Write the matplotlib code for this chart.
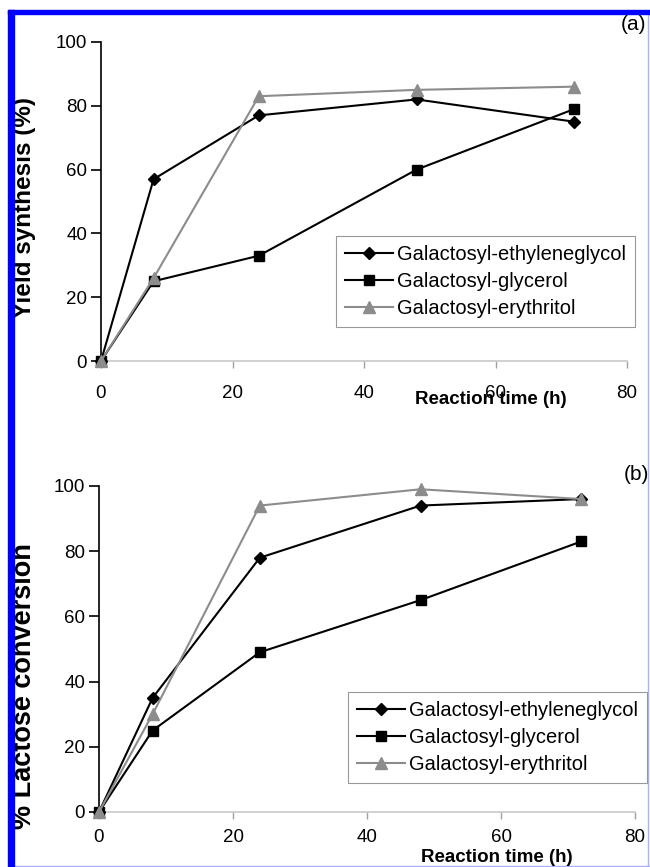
import matplotlib
matplotlib.use("Agg")
import matplotlib.pyplot as plt
from matplotlib.patches import Rectangle
from matplotlib.lines import Line2D

plt.rcParams['font.family'] = ['Liberation Sans', 'DejaVu Sans']

time_h = [0, 8, 24, 48, 72]
series_names = ["Galactosyl-ethyleneglycol", "Galactosyl-glycerol", "Galactosyl-erythritol"]

yield_ethyleneglycol = [0, 57, 77, 82, 75]
yield_glycerol = [0, 25, 33, 60, 79]
yield_erythritol = [0, 26, 83, 85, 86]

conv_ethyleneglycol = [0, 35, 78, 94, 96]
conv_glycerol = [0, 25, 49, 65, 83]
conv_erythritol = [0, 30, 94, 99, 96]

yticks = [0, 20, 40, 60, 80, 100]
xticks = [0, 20, 40, 60, 80]

W, H = 650, 867
fig = plt.figure(figsize=(W / 100, H / 100), dpi=100)

styles = [
    dict(color="black", marker="D", markersize=6, lw=1.5),
    dict(color="black", marker="s", markersize=7, lw=1.5),
    dict(color="#8c8c8c", marker="^", markersize=8, lw=1.5),
]


def make_panel(rect, data, ylabel, ylsize, ylabel_pos, xlabel_pos, xpad,
               legend_pos, tag, tag_pos):
    ax = fig.add_axes(rect)
    for vals, st, name in zip(data, styles, series_names):
        ax.plot(time_h, vals, label=name, clip_on=False, zorder=3,
                markeredgecolor=st["color"], **st)
    ax.set_xlim(0, 80)
    ax.set_ylim(0, 100)
    ax.set_xticks(xticks)
    ax.set_yticks(yticks)
    for s in ["top", "right"]:
        ax.spines[s].set_visible(False)
    ax.spines["left"].set_color("black")
    ax.spines["left"].set_linewidth(1.2)
    ax.spines["bottom"].set_color("#c8c8c8")
    ax.spines["bottom"].set_linewidth(1.2)
    ax.tick_params(axis="y", direction="out", length=7, width=1.2, colors="black",
                   labelsize=13.5, pad=3)
    ax.tick_params(axis="x", direction="out", length=5, width=1, color="#a0a0a0",
                   labelcolor="black", labelsize=13.5, pad=xpad)
    ax.patch.set_alpha(0)
    fig.text(ylabel_pos[0] / W, 1 - ylabel_pos[1] / H, ylabel, rotation=90,
             fontsize=ylsize, fontweight="bold", ha="center", va="center")
    fig.text(xlabel_pos[0] / W, 1 - xlabel_pos[1] / H, "Reaction time (h)",
             fontsize=13.5, fontweight="bold", ha="center", va="center")
    fig.text(tag_pos[0] / W, 1 - tag_pos[1] / H, tag, fontsize=15,
             ha="center", va="center")
    handles = [Line2D([], [], markeredgecolor=st["color"], **st) for st in styles]
    leg = fig.legend(handles, series_names, loc="upper left",
                     bbox_to_anchor=(legend_pos[0] / W, 1 - legend_pos[1] / H),
                     fontsize=14.5, frameon=True, fancybox=False, borderaxespad=0,
                     handlelength=2.4, handletextpad=0.2, labelspacing=0.4,
                     borderpad=0.45)
    leg.get_frame().set_edgecolor("#808080")
    leg.get_frame().set_linewidth(0.8)
    return ax


make_panel([101 / W, 1 - 361 / H, 526 / W, 319 / H],
           [yield_ethyleneglycol, yield_glycerol, yield_erythritol],
           "Yield synthesis (%)", 17.5, (24, 207), (491, 400), 12,
           (336, 236), "(a)", (634, 24))

make_panel([99 / W, 1 - 812 / H, 536 / W, 326 / H],
           [conv_ethyleneglycol, conv_glycerol, conv_erythritol],
           "% Lactose conversion", 19.5, (24, 686), (497, 858), 7,
           (348, 692), "(b)", (636, 474))

# blue border of the scanned figure
fig.patches.append(Rectangle((8 / W, 0), 6 / W, 1 - 10 / H, transform=fig.transFigure,
                             color="#0000ff", zorder=10))
fig.patches.append(Rectangle((8 / W, 1 - 14 / H), 1 - 8 / W, 4 / H, transform=fig.transFigure,
                             color="#0000ff", zorder=10))
fig.add_artist(Line2D([647.5 / W, 647.5 / W], [0, 1 - 14 / H], transform=fig.transFigure,
                      color="#a8b0ff", lw=1))
fig.add_artist(Line2D([14 / W, 1], [1.5 / H, 1.5 / H], transform=fig.transFigure,
                      color="#a8b0ff", lw=1))

fig.savefig("out.png", dpi=100)
